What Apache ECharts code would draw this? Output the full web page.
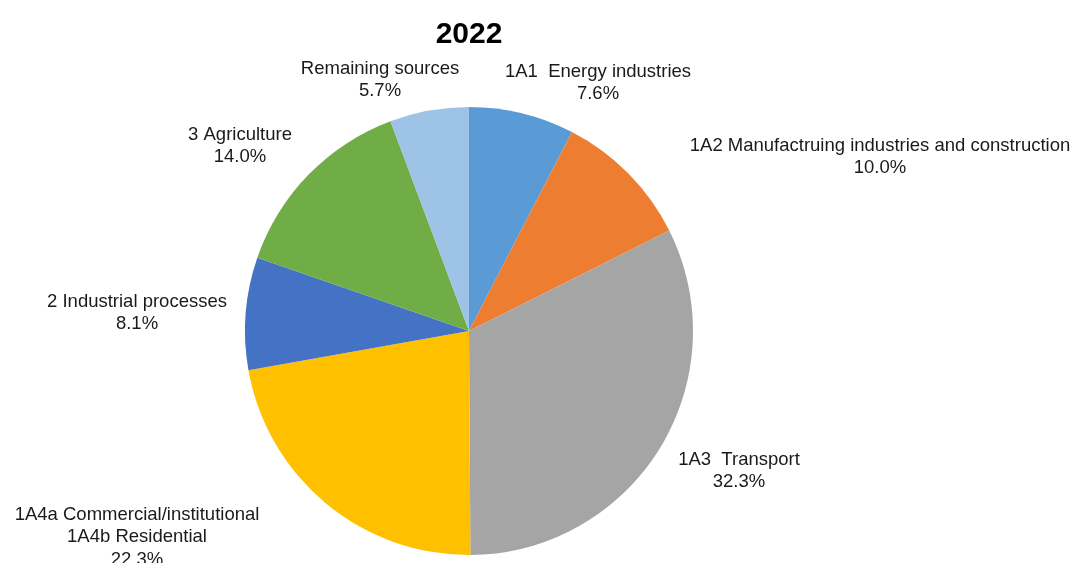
<!DOCTYPE html>
<html>
<head>
<meta charset="utf-8">
<script src="https://cdn.jsdelivr.net/npm/echarts@6/dist/echarts.min.js"></script>
<style>
  html, body { margin: 0; padding: 0; background: #ffffff; }
  #chart { width: 1075px; height: 563px; }
</style>
</head>
<body>
<div id="chart"></div>
<script>
// Emission shares by source category, 2022 (clockwise from 12 o'clock)
const categories = [
  '1A1  Energy industries',
  '1A2 Manufactruing industries and construction',
  '1A3  Transport',
  '1A4a Commercial/institutional\n1A4b Residential',
  '2 Industrial processes',
  '3 Agriculture',
  'Remaining sources'
];
const shares = [7.6, 10.0, 32.3, 22.3, 8.1, 14.0, 5.7];

// Slice colours
const colors = ['#5B9BD5', '#ED7D31', '#A5A5A5', '#FFC000', '#4472C4', '#70AD47', '#9DC3E6'];

// Label anchor points (centre of each label block, px)
const labelAnchors = [
  [598, 83], [880, 157], [739, 471], [137, 537], [137, 313], [240, 146], [380, 80]
];

const chart = echarts.init(document.getElementById('chart'), null, { renderer: 'canvas' });

chart.setOption({
  backgroundColor: '#ffffff',
  animation: false,
  title: {
    text: '2022',
    left: 464,
    top: 15,
    textAlign: 'center',
    textStyle: {
      fontFamily: 'Liberation Sans, Arial, sans-serif',
      fontSize: 30,
      fontWeight: 'bold',
      color: '#000000'
    }
  },
  series: [{
    type: 'pie',
    center: [469, 331],
    radius: 224,
    startAngle: 90,
    clockwise: true,
    silent: true,
    itemStyle: { borderWidth: 0 },
    label: {
      show: true,
      position: 'outside',
      fontFamily: 'Liberation Sans, Arial, sans-serif',
      fontSize: 18.5,
      lineHeight: 22.5,
      color: '#1a1a1a',
      align: 'center',
      formatter: p => p.name + '\n' + p.value.toFixed(1) + '%'
    },
    labelLine: { show: false },
    labelLayout: p => ({
      x: labelAnchors[p.dataIndex][0],
      y: labelAnchors[p.dataIndex][1],
      align: 'center',
      verticalAlign: 'middle',
      hideOverlap: false
    }),
    data: categories.map((name, i) => ({
      name: name,
      value: shares[i],
      itemStyle: { color: colors[i] }
    }))
  }]
});
</script>
</body>
</html>
